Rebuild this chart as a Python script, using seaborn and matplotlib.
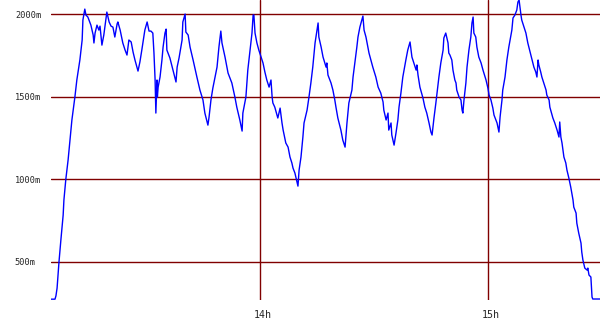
import matplotlib
matplotlib.use("Agg")
import matplotlib.pyplot as plt
import matplotlib.transforms as mtransforms
import seaborn as sns
import pandas as pd

# time in minutes after 13:00, altitude in metres
minutes = [5.0, 6.05, 6.3, 6.6, 7.1, 7.6, 8.2, 8.4, 8.9, 9.5, 10.0, 10.5, 11.3, 11.8, 12.6, 13.2, 13.4, 13.9,
           14.2, 14.7, 15.0, 15.5, 16.1, 16.3, 16.6, 17.1, 17.6, 17.9, 18.4, 18.9, 19.7, 20.3, 20.8, 21.3,
           21.8, 22.4, 22.6, 23.2, 23.9, 24.5, 25.0, 25.5, 26.1, 26.6, 27.1, 27.9, 28.4, 28.9, 29.7, 30.3,
           30.8, 31.3, 31.8, 32.1, 32.4, 32.6, 32.9, 33.0, 33.2, 33.7, 34.2, 34.5, 35.0, 35.3, 35.5, 36.3,
           37.1, 37.9, 38.2, 38.7, 39.5, 39.7, 40.3, 40.5, 41.1, 41.6, 42.4, 43.4, 44.2, 45.0, 45.5, 46.3,
           46.6, 47.1, 47.6, 48.7, 49.2, 49.7, 50.0, 50.8, 51.6, 52.6, 52.9, 53.4, 53.9, 54.7, 55.3, 55.5,
           56.3, 56.8, 57.4, 57.9, 58.2, 58.4, 58.7, 59.2, 59.7, 60.3, 60.8, 61.3, 61.8, 62.4, 62.9, 63.2,
           63.4, 63.9, 64.7, 65.3, 65.8, 66.1, 66.8, 67.4, 67.9, 68.4, 68.7, 69.2, 70.0, 70.3, 70.8, 71.3,
           71.6, 72.4, 72.9, 73.4, 73.9, 74.5, 75.0, 75.3, 75.5, 76.1, 76.6, 77.4, 77.6, 77.9, 78.7, 79.2,
           79.7, 80.0, 80.5, 81.3, 81.8, 82.4, 82.9, 83.4, 84.2, 84.5, 85.0, 85.5, 85.8, 86.3, 86.8, 87.1,
           87.4, 87.9, 88.2, 88.7, 89.2, 89.7, 90.5, 91.1, 91.8, 92.4, 92.6, 93.2, 93.7, 93.9, 94.5, 94.7,
           95.3, 95.8, 96.3, 96.6, 97.1, 97.6, 98.4, 98.9, 99.5, 100.0, 100.5, 101.1, 101.3, 101.6, 102.1,
           102.9, 103.4, 103.9, 104.5, 105.0, 105.3, 105.8, 106.3, 106.6, 107.1, 107.6, 108.2, 108.4, 108.9,
           109.5, 109.7, 110.0, 110.5, 110.8, 111.3, 111.6, 111.8, 112.4, 112.9, 113.2, 113.4, 113.7, 114.2,
           114.5, 115.0, 115.5, 115.8, 116.1, 116.3, 116.8, 117.1, 117.6, 118.2, 118.7, 119.5, 120.0, 120.3,
           120.8, 121.3, 121.6, 122.4, 122.9, 123.2, 123.7, 123.9, 124.5, 125.0, 125.5, 126.3, 126.6, 127.1,
           127.6, 127.9, 128.2, 128.7, 128.9, 129.5, 130.0, 130.5, 131.1, 131.6, 132.1, 132.6, 132.9, 133.2,
           133.4, 133.9, 134.2, 134.7, 135.3, 135.5, 136.1, 136.3, 137.1, 137.6, 138.2, 138.7, 138.9, 139.2,
           139.5, 140.0, 140.5, 140.8, 141.3, 141.8, 142.4, 142.6, 143.2, 143.4, 143.9, 144.5, 144.7, 145.0,
           145.5, 146.1, 146.3, 146.6, 147.1, 147.4, 147.6, 149.5]
altitude = [275, 275, 295, 342, 500, 633, 784, 875, 1000, 1117, 1238, 1359, 1500, 1601, 1722, 1843, 1964, 2030,
            1994, 1982, 1964, 1933, 1873, 1825, 1885, 1933, 1903, 1927, 1812, 1873, 2012, 1952, 1927, 1921,
            1861, 1940, 1952, 1903, 1825, 1782, 1752, 1843, 1831, 1770, 1722, 1655, 1710, 1782, 1903, 1952,
            1897, 1897, 1885, 1764, 1601, 1401, 1601, 1498, 1558, 1619, 1722, 1800, 1885, 1909, 1782, 1734,
            1661, 1589, 1679, 1734, 1843, 1952, 2000, 1891, 1873, 1800, 1722, 1619, 1540, 1480, 1401, 1328,
            1377, 1480, 1552, 1679, 1800, 1897, 1825, 1740, 1643, 1583, 1552, 1498, 1437, 1359, 1292, 1401,
            1498, 1661, 1782, 1885, 1994, 1994, 1885, 1825, 1782, 1740, 1704, 1649, 1601, 1558, 1601, 1498,
            1462, 1437, 1371, 1431, 1341, 1298, 1220, 1195, 1135, 1099, 1068, 1038, 959, 1056, 1135, 1256,
            1341, 1419, 1498, 1583, 1679, 1825, 1903, 1946, 1861, 1800, 1740, 1679, 1704, 1631, 1583, 1540,
            1480, 1437, 1371, 1298, 1238, 1195, 1341, 1462, 1540, 1619, 1710, 1800, 1861, 1921, 1964, 1988,
            1903, 1861, 1825, 1764, 1722, 1679, 1619, 1558, 1522, 1468, 1419, 1359, 1401, 1298, 1341, 1268,
            1207, 1280, 1359, 1437, 1522, 1619, 1722, 1782, 1831, 1740, 1704, 1661, 1692, 1631, 1558,
            1492, 1437, 1401, 1341, 1286, 1268, 1371, 1462, 1522, 1619, 1704, 1782, 1855, 1885,
            1825, 1764, 1752, 1722, 1661, 1601, 1583, 1540, 1498, 1480, 1419, 1401, 1480, 1583,
            1679, 1782, 1861, 1946, 1982, 1885, 1861, 1800, 1740, 1704, 1661, 1601, 1552, 1510,
            1480, 1431, 1389, 1341, 1286, 1377, 1480, 1540, 1619, 1722, 1800, 1903, 1976, 1994,
            2024, 2073, 2085, 1994, 1964, 1921, 1885, 1825, 1770, 1722, 1679, 1649, 1619, 1722,
            1692, 1649, 1619, 1583, 1540, 1510, 1480, 1437, 1371, 1341, 1298, 1256, 1347, 1256,
            1220, 1135, 1099, 1056, 1008, 953, 875, 832, 796, 735, 675, 614, 560, 512,
            463, 451, 463, 421, 409, 288, 276, 276]

y_ticks = [500, 1000, 1500, 2000]
y_labels = ["500m", "1000m", "1500m", "2000m"]
x_ticks = [60, 120]
x_labels = ["14h", "15h"]

df = pd.DataFrame({"t": minutes, "alt": altitude})

sns.set_style("white")
fig = plt.figure(figsize=(6.0, 3.3), dpi=100)
ax = fig.add_axes([51 / 600, 30 / 330, 549 / 600, 300 / 330])

grid_col = "#800000"
for v in y_ticks:
    ax.axhline(v, color=grid_col, lw=1.0, zorder=1)
for v in x_ticks:
    ax.axvline(v, color=grid_col, lw=1.0, zorder=1)

sns.lineplot(data=df, x="t", y="alt", sort=False, estimator=None, color="#0000ff",
             lw=1.0, ax=ax, zorder=3)

ax.set_xlim(5.0, 149.5)
ax.set_ylim(270, 2085)
for s in ax.spines.values():
    s.set_visible(False)
ax.set_xlabel("")
ax.set_ylabel("")

ax.set_yticks(y_ticks)
ax.set_yticklabels(y_labels, fontsize=6.2, family="DejaVu Sans Mono", ha="left")
ax.set_xticks(x_ticks)
ax.set_xticklabels(x_labels, fontsize=7.2, family="DejaVu Sans Mono")
ax.tick_params(axis="y", length=0, pad=26)
ax.tick_params(axis="x", length=0, pad=7)
offset = mtransforms.ScaledTranslation(3 / 100, 0, fig.dpi_scale_trans)
for lbl in ax.get_xticklabels():
    lbl.set_transform(lbl.get_transform() + offset)

fig.savefig("out.png", dpi=100, facecolor="white")
